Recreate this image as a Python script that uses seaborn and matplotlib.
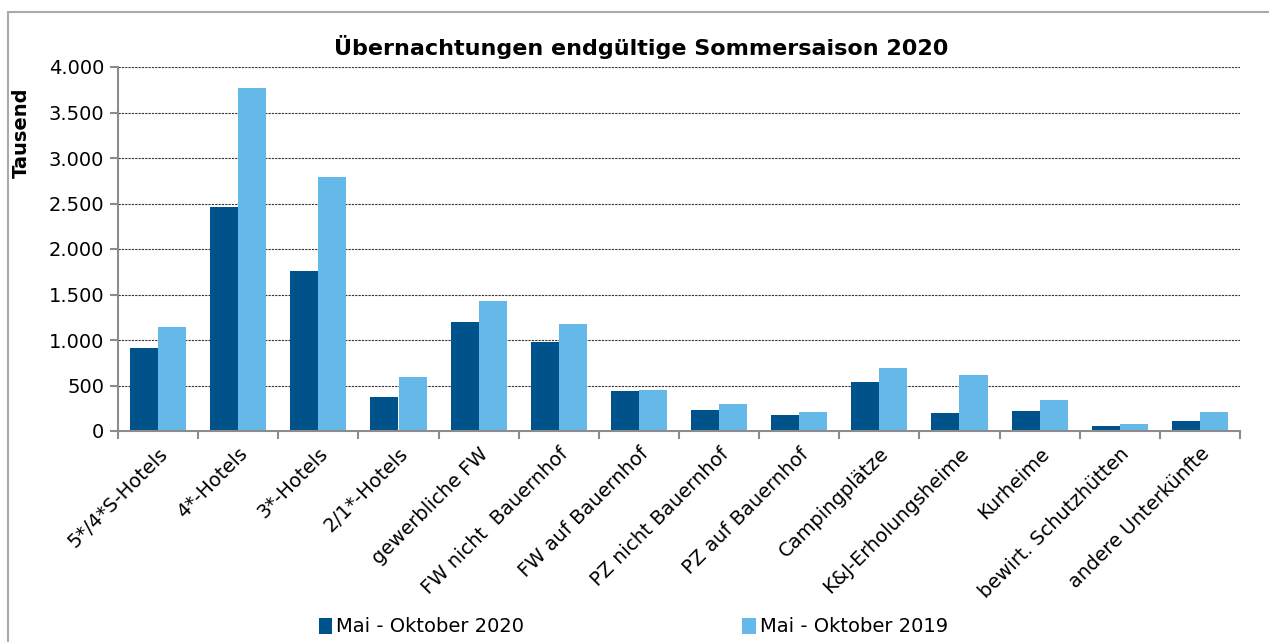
import pandas as pd
import matplotlib.pyplot as plt
import matplotlib.ticker as mticker
import seaborn as sns

categories = ["5*/4*S-Hotels", "4*-Hotels", "3*-Hotels", "2/1*-Hotels", "gewerbliche FW",
              "FW nicht  Bauernhof", "FW auf Bauernhof", "PZ nicht Bauernhof", "PZ auf Bauernhof",
              "Campingplätze", "K&J-Erholungsheime", "Kurheime", "bewirt. Schutzhütten",
              "andere Unterkünfte"]
werte_2020 = [908, 2462, 1760, 371, 1198, 974, 437, 231, 181, 540, 198, 220, 60, 110]
werte_2019 = [1139, 3773, 2796, 592, 1426, 1172, 456, 294, 206, 691, 610, 338, 81, 214]
serien = ["Mai - Oktober 2020", "Mai - Oktober 2019"]
farben = ["#00528A", "#65B9E9"]

df = pd.DataFrame({
    "Kategorie": categories * 2,
    "Serie": [serien[0]] * len(categories) + [serien[1]] * len(categories),
    "Wert": werte_2020 + werte_2019,
})

sns.set_style("white")
plt.rcParams["font.family"] = ["DejaVu Sans"]
plt.rcParams["text.color"] = "black"
plt.rcParams["xtick.color"] = "black"
plt.rcParams["ytick.color"] = "black"
plt.rcParams["axes.labelcolor"] = "black"

fig = plt.figure(figsize=(12.69, 6.42), dpi=100)
ax = fig.add_axes([118 / 1269, 1 - 431 / 642, (1240 - 118) / 1269, (431 - 67) / 642])

sns.barplot(data=df, x="Kategorie", y="Wert", hue="Serie", palette=farben,
            width=0.7, gap=0, saturation=1, ax=ax, edgecolor="none")

ax.set_ylim(0, 4000)
ax.set_xlim(-0.5, len(categories) - 0.5)
ax.yaxis.set_major_locator(mticker.MultipleLocator(500))
ax.yaxis.set_major_formatter(mticker.FuncFormatter(lambda v, p: f"{int(v):,}".replace(",", ".")))
ax.grid(axis="y", color="#333333", linestyle=(0, (2, 1)), linewidth=0.8)
ax.set_axisbelow(True)

for s in ["top", "right"]:
    ax.spines[s].set_visible(False)
for s in ["left", "bottom"]:
    ax.spines[s].set_color("#8c8c8c")
    ax.spines[s].set_linewidth(1.5)

ax.tick_params(axis="y", left=True, length=6, width=1.5, color="#8c8c8c", labelsize=14, pad=4)
ax.set_xticks(range(len(categories)))
ax.set_xticklabels(categories, rotation=45, ha="right", rotation_mode="anchor", fontsize=14)
ax.tick_params(axis="x", which="major", bottom=False, pad=6)
ax.set_xticks([i - 0.5 for i in range(len(categories) + 1)], minor=True)
ax.tick_params(axis="x", which="minor", bottom=True, length=6, width=1.5, color="#8c8c8c")

ax.set_xlabel("")
ax.set_ylabel("Tausend", fontsize=14, fontweight="bold")
ax.yaxis.set_label_coords(-0.078, 0.82)

fig.text(0.505, 1 - 47 / 642, "Übernachtungen endgültige Sommersaison 2020",
         ha="center", va="center", fontsize=16, fontweight="bold")

ax.legend_.remove()
handles, labels = ax.get_legend_handles_labels()
fig.legend(handles, labels, loc="center", bbox_to_anchor=(0.499, 1 - 627 / 642), ncol=2,
           frameon=False, fontsize=14, handlelength=0.7, handleheight=0.9,
           handletextpad=0.2, columnspacing=11.2)

fig.add_artist(plt.Line2D([8 / 1269, 1], [1 - 12 / 642, 1 - 12 / 642], color="#aaaaaa", linewidth=1.5))
fig.add_artist(plt.Line2D([8 / 1269, 8 / 1269], [0, 1 - 12 / 642], color="#aaaaaa", linewidth=1.5))

fig.savefig("out.png", dpi=100)
